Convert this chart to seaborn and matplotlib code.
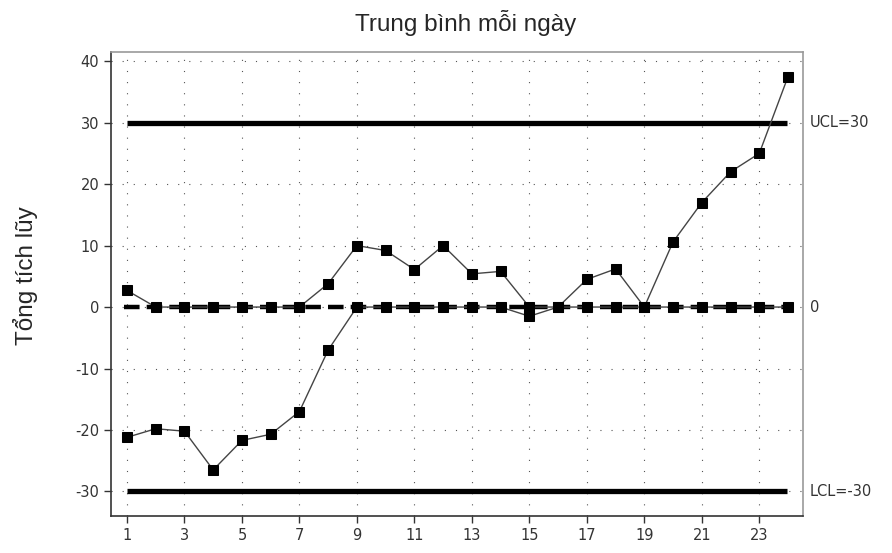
import matplotlib
matplotlib.use("Agg")
import matplotlib.pyplot as plt
import seaborn as sns
import pandas as pd
import numpy as np

sns.set_style("white")
plt.rcParams['font.family'] = ['DejaVu Sans']
plt.rcParams['axes.unicode_minus'] = False

days = list(range(1, 25))
upper = [2.7, 0, 0, 0, 0, 0, 0, 3.8, 10.0, 9.2, 6.1, 10.0, 5.4, 5.8, 0, 0,
         4.5, 6.2, 0, 10.6, 17.0, 22.0, 25.0, 37.5]
lower = [-21.2, -19.8, -20.2, -26.5, -21.7, -20.7, -17.0, -7.0, 0, 0, 0, 0, 0, 0,
         -1.5, 0, 0, 0, 0, 0, 0, 0, 0, 0]
ucl = 30
lcl = -30
center = 0
x_ticks = list(range(1, 25, 2))
y_ticks = [-30, -20, -10, 0, 10, 20, 30, 40]
limit_labels = ["UCL=30", "0", "LCL=-30"]

fig = plt.figure(figsize=(8.92, 5.53), dpi=100)
ax = fig.add_axes([0.1244, 0.0669, 0.9002 - 0.1244, 0.906 - 0.0669])

# grid
for xv in x_ticks:
    ax.axvline(xv, color="#555555", lw=0.8, ls=(0, (1, 9)), zorder=0)
for yv in y_ticks:
    ax.axhline(yv, color="#555555", lw=0.8, ls=(0, (1, 9)), zorder=0)

# control limits
ax.plot([days[0], days[-1] - 0.05], [ucl, ucl], color="black", lw=3.8,
        solid_capstyle="butt", zorder=2)
ax.plot([days[0], days[-1] - 0.05], [lcl, lcl], color="black", lw=3.8,
        solid_capstyle="butt", zorder=2)
ax.plot([days[0] - 0.1, days[-1]], [center, center], color="black", lw=3.2,
        ls=(0, (3.5, 1.6)), dash_capstyle="butt", zorder=2)

df = pd.DataFrame({"day": days * 2, "value": upper + lower,
                   "series": ["upper"] * 24 + ["lower"] * 24})
sns.lineplot(data=df, x="day", y="value", units="series", estimator=None,
             color="#444444", lw=1.0, marker="s", markersize=7.5,
             markerfacecolor="black", markeredgecolor="black", ax=ax, zorder=3)

ax.set_xlim(0.443, 24.52)
ax.set_ylim(-34, 41.5)
ax.set_xticks(x_ticks)
ax.set_yticks(y_ticks)
ax.tick_params(axis="both", length=5, width=1, color="#333333", labelsize=10.5,
               labelcolor="#333333", direction="out", bottom=True, left=True)
ax.set_xlabel("")
ax.set_ylabel("")

fig.text(25 / 892, (553 - 276) / 553, "Tổng tích lũy", rotation=90,
         ha="center", va="center", fontsize=17.5,
         family=["Liberation Sans", "DejaVu Sans"])
fig.text(466 / 892, (553 - 23) / 553, "Trung bình mỗi ngày",
         ha="center", va="center", fontsize=17.5,
         family=["Liberation Sans", "DejaVu Sans"])

for sp in ["left", "bottom"]:
    ax.spines[sp].set_color("#333333")
    ax.spines[sp].set_linewidth(1.2)
for sp in ["right", "top"]:
    ax.spines[sp].set_color("#999999")
    ax.spines[sp].set_linewidth(1.2)

for val, lab in zip([ucl, center, lcl], limit_labels):
    ax.text(1.01, val, lab, transform=ax.get_yaxis_transform(), va="center",
            ha="left", fontsize=10.5, color="#333333")

fig.savefig("out.png", dpi=100)
